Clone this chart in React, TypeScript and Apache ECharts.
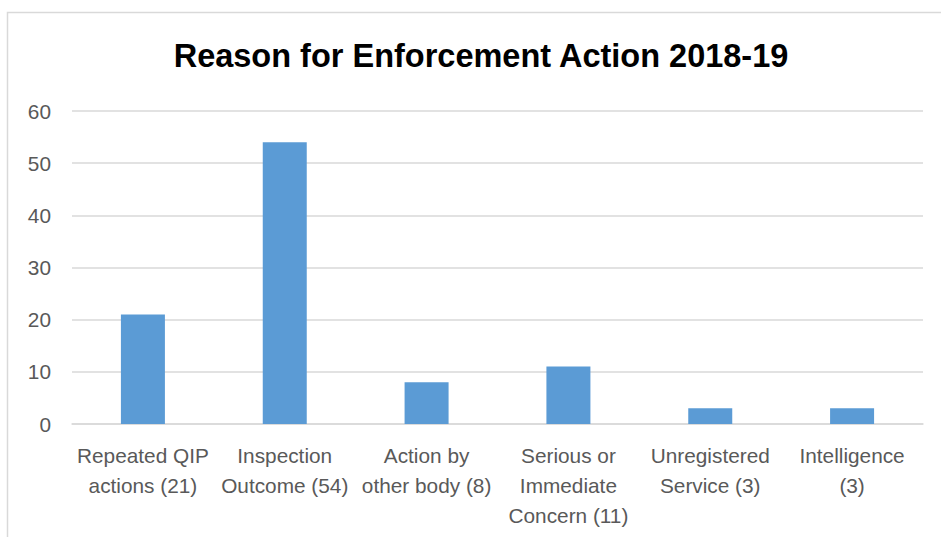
import React, { useEffect, useRef } from "react";
import * as echarts from "echarts";

const categories = [
  "Repeated QIP\nactions (21)",
  "Inspection\nOutcome (54)",
  "Action by\nother body (8)",
  "Serious or\nImmediate\nConcern (11)",
  "Unregistered\nService (3)",
  "Intelligence\n(3)",
];
const values = [21, 54, 8, 11, 3, 3];
const titleText = "Reason for Enforcement Action 2018-19";

export default function App() {
  const ref = useRef<HTMLDivElement>(null);
  useEffect(() => {
    const chart = echarts.init(ref.current!, null, { renderer: "svg" });
    const font = "Liberation Sans";
    chart.setOption({
      animation: false,
      backgroundColor: "#ffffff",
      title: {
        text: titleText,
        left: 476,
        textAlign: "center",
        top: 34,
        textStyle: { fontFamily: font, fontSize: 32.5, fontWeight: "bold", color: "#000000" },
      },
      graphic: [
        {
          type: "rect",
          shape: { x: 7.5, y: 12.5, width: 1000, height: 700 },
          style: { fill: "none", stroke: "#d9d9d9", lineWidth: 1.5 },
          silent: true,
        },
      ],
      grid: { left: 72, right: 18, top: 111, bottom: 113 },
      xAxis: {
        type: "category",
        data: categories,
        axisLine: { show: true, lineStyle: { color: "#d9d9d9", width: 1.5 } },
        axisTick: { show: false },
        axisLabel: {
          interval: 0,
          margin: 16,
          color: "#595959",
          fontFamily: font,
          fontSize: 20.8,
          lineHeight: 30,
          verticalAlign: "top",
        },
      },
      yAxis: {
        type: "value",
        min: 0,
        max: 60,
        interval: 10,
        axisLine: { show: false },
        axisTick: { show: false },
        splitLine: { lineStyle: { color: "#d9d9d9", width: 1.5 } },
        axisLabel: { color: "#595959", fontFamily: font, fontSize: 20.8, margin: 21 },
      },
      series: [
        {
          type: "bar",
          data: values,
          barWidth: 44,
          itemStyle: { color: "#5B9BD5" },
        },
      ],
    });
    return () => chart.dispose();
  }, []);
  return (
    <div
      ref={ref}
      style={{ position: "fixed", left: 0, top: 0, width: 941, height: 537 }}
    />
  );
}
